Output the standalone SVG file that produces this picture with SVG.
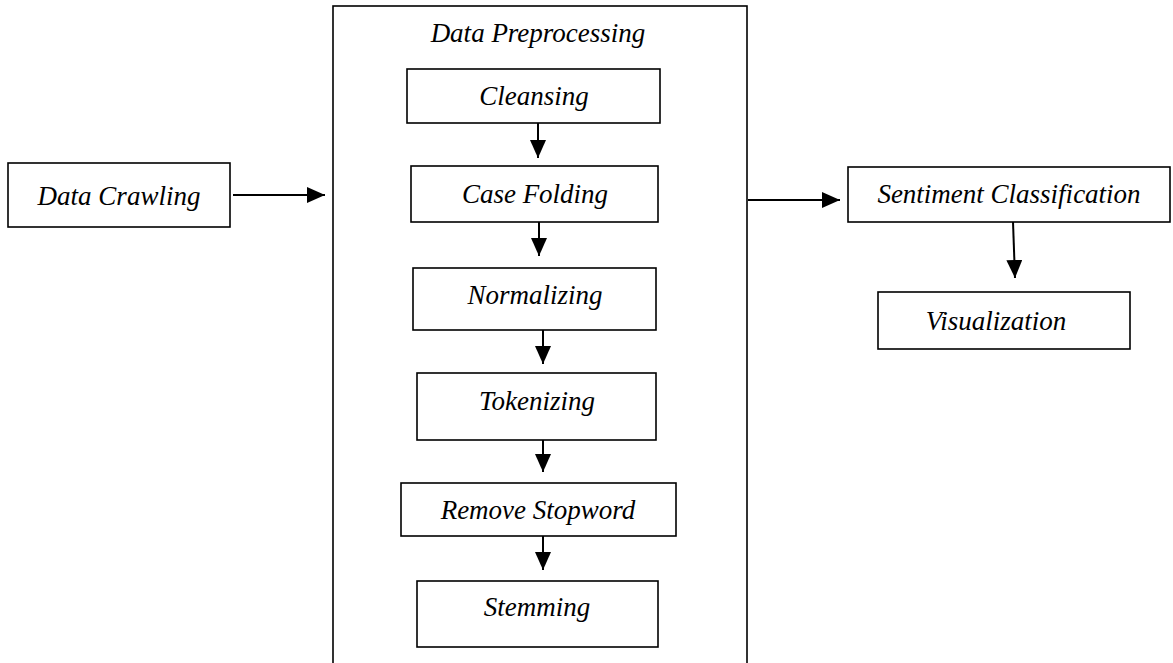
<svg xmlns="http://www.w3.org/2000/svg" width="1173" height="663" viewBox="0 0 1173 663">
<style>
.box{fill:#fff;stroke:#000;stroke-width:1.6}
.lbl{font-family:"Liberation Serif",serif;font-style:italic;font-size:27px;fill:#000;text-anchor:middle}
.con{stroke:#000;stroke-width:2;fill:none;marker-end:url(#ah)}
</style>
<defs>
<marker id="ah" markerUnits="userSpaceOnUse" markerWidth="19" markerHeight="16" refX="18" refY="8" orient="auto">
<path d="M0,0 L18,8 L0,16 z" fill="#000"/>
</marker>
</defs>
<rect width="1173" height="663" fill="#fff"/>
<g id="preprocessing">
<rect class="box" x="333" y="6" width="414" height="670"/>
<text class="lbl" x="538" y="42">Data Preprocessing</text>
</g>
<g id="data-crawling">
<rect class="box" x="8" y="163" width="222" height="64"/>
<text class="lbl" x="119" y="205">Data Crawling</text>
</g>
<g id="cleansing">
<rect class="box" x="407" y="69" width="253" height="54"/>
<text class="lbl" x="534" y="105">Cleansing</text>
</g>
<g id="case-folding">
<rect class="box" x="411" y="166" width="247" height="56"/>
<text class="lbl" x="535" y="203">Case Folding</text>
</g>
<g id="normalizing">
<rect class="box" x="413" y="268" width="243" height="62"/>
<text class="lbl" x="535" y="304">Normalizing</text>
</g>
<g id="tokenizing">
<rect class="box" x="417" y="373" width="239" height="67"/>
<text class="lbl" x="537" y="410">Tokenizing</text>
</g>
<g id="remove-stopword">
<rect class="box" x="401" y="483" width="275" height="53"/>
<text class="lbl" x="538" y="519">Remove Stopword</text>
</g>
<g id="stemming">
<rect class="box" x="417" y="581" width="241" height="66"/>
<text class="lbl" x="537" y="616">Stemming</text>
</g>
<g id="sentiment-classification">
<rect class="box" x="848" y="167" width="322" height="55"/>
<text class="lbl" x="1009" y="203">Sentiment Classification</text>
</g>
<g id="visualization">
<rect class="box" x="878" y="292" width="252" height="57"/>
<text class="lbl" x="996" y="330">Visualization</text>
</g>
<g id="connectors">
<line class="con" x1="233" y1="195" x2="325" y2="195"/>
<line class="con" x1="538" y1="123" x2="538" y2="158"/>
<line class="con" x1="539" y1="222" x2="539" y2="256"/>
<line class="con" x1="543" y1="330" x2="543" y2="364"/>
<line class="con" x1="543" y1="440" x2="543" y2="472"/>
<line class="con" x1="543" y1="536" x2="543" y2="570"/>
<line class="con" x1="748" y1="200" x2="840" y2="200"/>
<line class="con" x1="1013" y1="222" x2="1015" y2="278"/>
</g>
</svg>
